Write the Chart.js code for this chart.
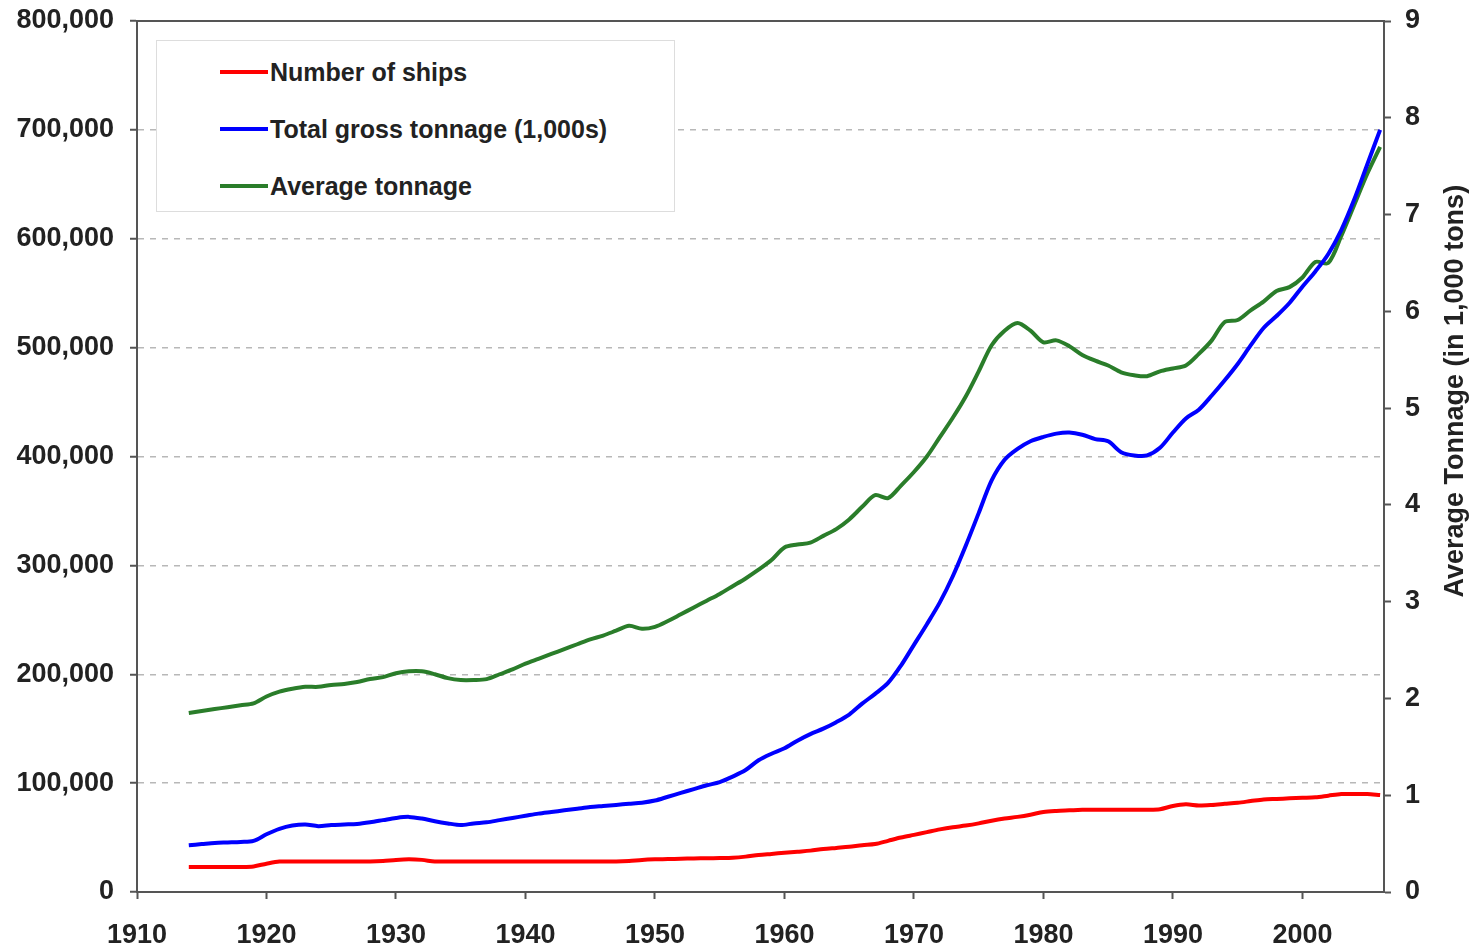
<!DOCTYPE html>
<html>
<head>
<meta charset="utf-8">
<title>Ships and tonnage</title>
<script src="https://cdn.jsdelivr.net/npm/chart.js@4/dist/chart.umd.min.js"></script>
<style>
  html, body { margin: 0; padding: 0; background: #fff; }
  #wrap { position: relative; width: 1478px; height: 948px; }
  #legend {
    position: absolute; left: 156px; top: 40px; width: 519px; height: 172px;
    border: 1px solid #ddd; background: #fff; box-sizing: border-box;
    font: bold 25px "Liberation Sans", Arial, sans-serif; color: #222;
  }
  #legend .item { position: absolute; left: 63px; height: 30px; display: flex; align-items: center; }
  #legend .swatch { width: 48px; height: 4px; margin-right: 2px; }
</style>
</head>
<body>
<div id="wrap">
  <canvas id="lineChart" width="1478" height="948"></canvas>
  <div id="legend"></div>
</div>
<script>
// data, one value per year 1914-2006
var years = [];
for (var yr = 1914; yr <= 2006; yr++) years.push(yr);

var ships = [
  23000, 23000, 23000, 23000, 23000, 23500, 26000, 28000, 28000, 28000,
  28000, 28000, 28000, 28000, 28000, 28500, 29500, 30000, 29500, 28000,
  28000, 28000, 28000, 28000, 28000, 28000, 28000, 28000, 28000, 28000,
  28000, 28000, 28000, 28000, 28500, 29500, 30000, 30200, 30500, 30800,
  31000, 31200, 31500, 32500, 34000, 35000, 36000, 37000, 38000, 39500,
  40500, 41500, 43000, 44000, 47000, 50000, 52500, 55000, 57500, 59500,
  61000, 63000, 65500, 67500, 69000, 71000, 73500, 74500, 75000, 75500,
  75500, 75500, 75500, 75500, 75500, 76000, 79000, 80500, 79500, 80000,
  81000, 82000, 83500, 85000, 85500, 86000, 86500, 87000, 88500, 90000,
  90000, 90000, 89000
];

var grossTonnage = [
  43000, 44000, 45000, 45500, 46000, 47000, 53000, 58000, 61000, 62000,
  60500, 61500, 62000, 62500, 64000, 66000, 68000, 69000, 67500, 65000,
  63000, 61500, 63000, 64000, 66000, 68000, 70000, 72000, 73500, 75000,
  76500, 78000, 79000, 80000, 81000, 82000, 84000, 87500, 91000, 94500,
  98000, 101000, 106000, 112000, 121000, 127000, 132000, 139000, 145000, 150000,
  156000, 163000, 173000, 182000, 192000, 208000, 227000, 246000, 266000, 290000,
  318000, 348000, 378000, 397000, 407000, 414000, 418000, 421000, 422000, 420000,
  416000, 414000, 404000, 401000, 401000, 408000, 422000, 435000, 443000, 456000,
  470000, 485000, 502000, 518000, 529000, 541000, 556000, 570000, 586000, 608000,
  636000, 668000, 700000
];

var avgTonnage = [
  1.85, 1.87, 1.89, 1.91, 1.93, 1.95, 2.02, 2.07, 2.10, 2.12,
  2.12, 2.14, 2.15, 2.17, 2.20, 2.22, 2.26, 2.28, 2.28, 2.25,
  2.21, 2.19, 2.19, 2.20, 2.25, 2.30, 2.36, 2.41, 2.46, 2.51,
  2.56, 2.61, 2.65, 2.70, 2.75, 2.72, 2.74, 2.80, 2.87, 2.94,
  3.01, 3.08, 3.16, 3.24, 3.33, 3.43, 3.56, 3.59, 3.61, 3.68,
  3.75, 3.85, 3.98, 4.10, 4.07, 4.20, 4.34, 4.50, 4.70, 4.90,
  5.12, 5.38, 5.65, 5.80, 5.88, 5.80, 5.68, 5.70, 5.64, 5.55,
  5.49, 5.44, 5.37, 5.34, 5.33, 5.38, 5.41, 5.44, 5.56, 5.70,
  5.89, 5.91, 6.01, 6.10, 6.21, 6.25, 6.35, 6.51, 6.50, 6.78,
  7.10, 7.42, 7.70
];

var seriesLabels = ['Number of ships', 'Total gross tonnage (1,000s)', 'Average tonnage'];
var seriesColors = ['#ff0000', '#0000ff', '#2a7d2a'];
var rightTitle = 'Average Tonnage (in 1,000 tons)';

function toPoints(vals) {
  return vals.map(function(v, i) { return { x: years[i], y: v }; });
}

var tickFont = { family: '"Liberation Sans", Arial, sans-serif', size: 27, weight: 'bold' };
var axisColor = '#555';

var framePlugin = {
  id: 'frame',
  afterDraw: function(chart) {
    var ctx = chart.ctx, area = chart.chartArea;
    ctx.save();
    ctx.strokeStyle = axisColor;
    ctx.lineWidth = 2;
    ctx.beginPath();
    ctx.moveTo(area.left, area.top);
    ctx.lineTo(area.right, area.top);
    ctx.stroke();
    // right axis title
    ctx.translate(chart.scales.y2.right - 22, area.top + area.height * 0.425);
    ctx.rotate(-Math.PI / 2);
    ctx.font = 'bold 27px "Liberation Sans", Arial, sans-serif';
    ctx.fillStyle = '#222';
    ctx.textAlign = 'center';
    ctx.textBaseline = 'middle';
    ctx.fillText(rightTitle, 0, 0);
    ctx.restore();
  }
};

var chart = new Chart(document.getElementById('lineChart'), {
  type: 'line',
  data: {
    datasets: [
      { label: seriesLabels[0], data: toPoints(ships), yAxisID: 'y', borderColor: seriesColors[0] },
      { label: seriesLabels[1], data: toPoints(grossTonnage), yAxisID: 'y', borderColor: seriesColors[1] },
      { label: seriesLabels[2], data: toPoints(avgTonnage), yAxisID: 'y2', borderColor: seriesColors[2] }
    ]
  },
  options: {
    responsive: false,
    animation: false,
    layout: { padding: { top: 21, left: 0, right: 0, bottom: 0 } },
    elements: {
      line: { borderWidth: 4, tension: 0.3, fill: false },
      point: { radius: 0 }
    },
    plugins: { legend: { display: false }, tooltip: { enabled: false } },
    scales: {
      x: {
        type: 'linear', min: 1910, max: 2006.3,
        afterFit: function(s) { s.height = 56; s.paddingTop = 0; },
        border: { color: axisColor, width: 2 },
        grid: { drawOnChartArea: false, tickLength: 7, tickColor: axisColor, tickWidth: 2 },
        ticks: { stepSize: 10, includeBounds: false, font: tickFont, color: '#222', padding: 20,
          callback: function(v) { return String(v); } }
      },
      y: {
        position: 'left', min: 0, max: 800000,
        afterFit: function(s) { s.width = 137; s.paddingTop = 0; s.paddingBottom = 0; },
        border: { color: axisColor, width: 2, dash: [6, 6] },
        grid: { color: '#b8b8b8', lineWidth: 1.5, tickLength: 7, tickColor: axisColor, tickWidth: 2, tickBorderDash: [] },
        ticks: { stepSize: 100000, font: tickFont, color: '#222', padding: 16,
          callback: function(v) { return v.toLocaleString('en-US'); } }
      },
      y2: {
        position: 'right', min: 0, max: 9,
        afterFit: function(s) { s.width = 94; s.paddingTop = 0; s.paddingBottom = 0; },
        border: { color: axisColor, width: 2 },
        grid: { drawOnChartArea: false, tickLength: 7, tickColor: axisColor, tickWidth: 2 },
        ticks: { stepSize: 1, font: tickFont, color: '#222', padding: 14 }
      }
    }
  },
  plugins: [framePlugin]
});

// legend as html, built from the datasets
var legend = document.getElementById('legend');
chart.data.datasets.forEach(function(ds, i) {
  var item = document.createElement('div');
  item.className = 'item';
  item.style.top = (16 + i * 57) + 'px';
  var sw = document.createElement('span');
  sw.className = 'swatch';
  sw.style.background = ds.borderColor;
  var tx = document.createElement('span');
  tx.textContent = ds.label;
  item.appendChild(sw);
  item.appendChild(tx);
  legend.appendChild(item);
});
</script>
</body>
</html>
